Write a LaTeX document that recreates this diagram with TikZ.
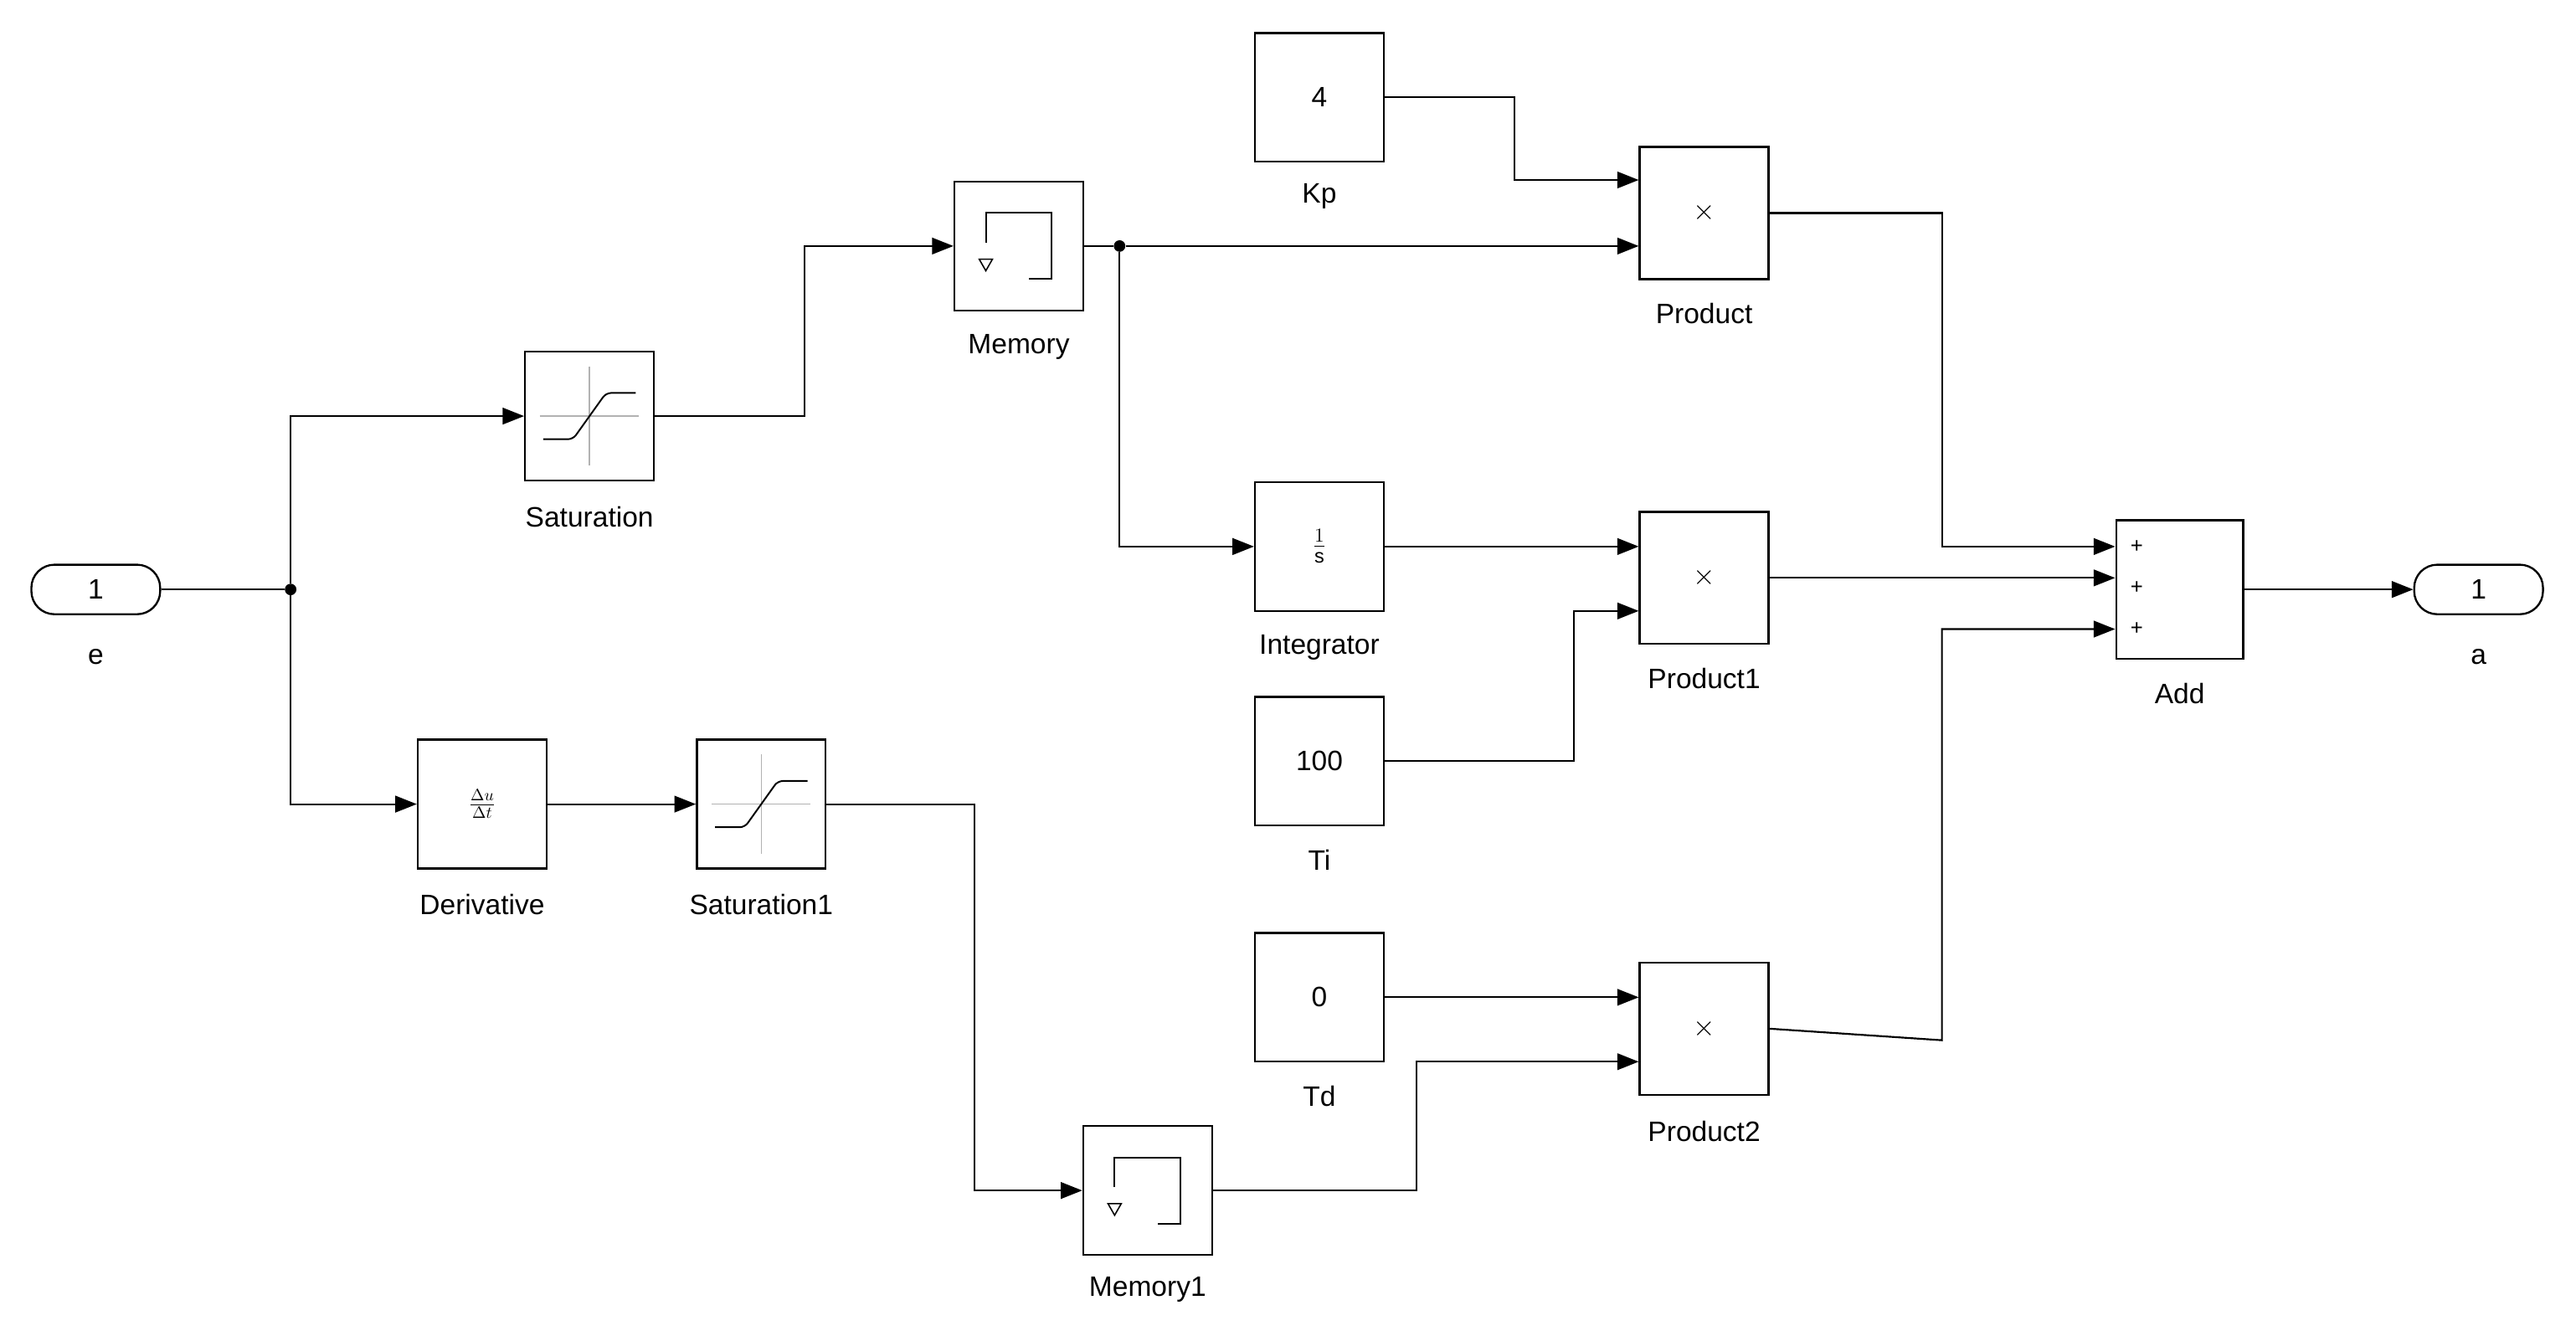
\documentclass[tikz,border=0pt]{standalone}
\usepackage{fontspec}
\setmainfont{Liberation Sans}
\usetikzlibrary{arrows.meta,calc}
\begin{document}
\begin{tikzpicture}[x=1pt,y=-1pt,
 blk/.style={draw,line width=1.2pt,fill=white,minimum width=78pt,minimum height=78pt,inner sep=0pt,font=\fontsize{17}{20}\selectfont},
 port/.style={draw,line width=1.2pt,rounded corners=14pt,minimum width=78pt,minimum height=30pt,inner sep=0pt,font=\fontsize{17}{20}\selectfont},
 lab/.style={font=\fontsize{17}{20}\selectfont},
 w/.style={line width=1.1pt,-{Triangle[length=13pt,width=10pt]}},
 wl/.style={line width=1.1pt},
 dot/.style={circle,fill,inner sep=0pt,minimum size=7pt}]
\useasboundingbox (0,0) rectangle (1560,806);
% blocks
\node[port] (e) at (58,357) {1}; \node[lab] at (58,398) {e};
\node[port] (a) at (1501,357) {1}; \node[lab] at (1501,398) {a};
\node[blk] (sat) at (357,252) {}; \node[lab] at (357,313) {Saturation};
\node[blk] (mem) at (617,149) {}; \node[lab] at (617,210) {Memory};
\node[blk] (kp) at (799,59) {4}; \node[lab] at (799,119) {Kp};
\node[blk,minimum height=80pt] (p0) at (1032,129) {$\times$}; \node[lab] at (1032,190) {Product};
\node[blk] (int) at (799,331) {}; \node[lab] at (799,392) {Integrator};
\node at (799,331) {\fontsize{17}{20}\selectfont$\frac{1}{\mathrm{s}}$};
\node[blk,minimum height=80pt] (p1) at (1032,350) {$\times$}; \node[lab] at (1032,411) {Product1};
\node[blk] (ti) at (799,461) {100}; \node[lab] at (799,521) {Ti};
\node[blk] (der) at (292,487) {}; \node[lab] at (292,548) {Derivative};
\node at (292,487) {\fontsize{14}{16}\selectfont$\frac{\Delta u}{\Delta t}$};
\node[blk] (sat1) at (461,487) {}; \node[lab] at (461,548) {Saturation1};
\node[blk] (td) at (799,604) {0}; \node[lab] at (799,664) {Td};
\node[blk,minimum height=80pt] (p2) at (1032,623) {$\times$}; \node[lab] at (1032,685) {Product2};
\node[blk] (mem1) at (695,721) {}; \node[lab] at (695,781) {Memory1};
\node[blk,minimum width=77pt,minimum height=84pt] (add) at (1320,357) {}; \node[lab] at (1320,420) {Add};
\foreach \yy in {331,356,381} \node[font=\fontsize{13}{14}\selectfont] at (1294,\yy) {+};
% icons
\foreach \n in {sat,sat1}{
 \draw[gray!60,line width=0.8pt] ($(\n)+(-30,0)$)--($(\n)+(30,0)$) ($(\n)+(0,-30)$)--($(\n)+(0,30)$);
 \draw[line width=1pt,rounded corners=3pt] ($(\n)+(-28,14)$)--($(\n)+(-10,14)$)--($(\n)+(10,-14)$)--($(\n)+(28,-14)$);}
\foreach \n in {mem,mem1}{
 \draw[line width=1pt] ($(\n)+(-20,-2)$)--($(\n)+(-20,-20)$)--($(\n)+(20,-20)$)--($(\n)+(20,20)$)--($(\n)+(6,20)$);
 \draw[line width=0.8pt] ($(\n)+(-24,8)$)--($(\n)+(-16,8)$)--($(\n)+(-20,15)$)--cycle;}
% wires
\node[dot] (j1) at (176,357) {};
\node[dot] (j2) at (678,149) {};
\draw[wl] (e.east)--(j1);
\draw[w] (j1) |- (sat.west);
\draw[w] (j1) |- (der.west);
\draw[w] (sat.east) -- (487,252) |- (mem.west);
\draw[wl] (mem.east)--(j2);
\draw[w] (j2) -- (p0.west|-j2);
\draw[w] (j2) |- (int.west);
\draw[w] (kp.east) -- (917,59) |- ($(p0.west)+(0,-20)$);
\draw[w] (p0.east) -- (1176,129) |- ($(add.west)+(0,-26)$);
\draw[w] (int.east) -- (p1.west|-int.east);
\draw[w] (ti.east) -- (953,461) |- ($(p1.west)+(0,20)$);
\draw[w] (p1.east) -- (add.west|-p1.east);
\draw[w] (der.east) -- (sat1.west);
\draw[w] (sat1.east) -- (590,487) |- (mem1.west);
\draw[w] (mem1.east) -- (858,721) |- ($(p2.west)+(0,20)$);
\draw[w] (td.east) -- (p2.west|-td.east);
\draw[w] (p2.east) -- (1176,630) |- ($(add.west)+(0,24)$);
\draw[w] (add.east) -- (a.west);
\end{tikzpicture}
\end{document}
